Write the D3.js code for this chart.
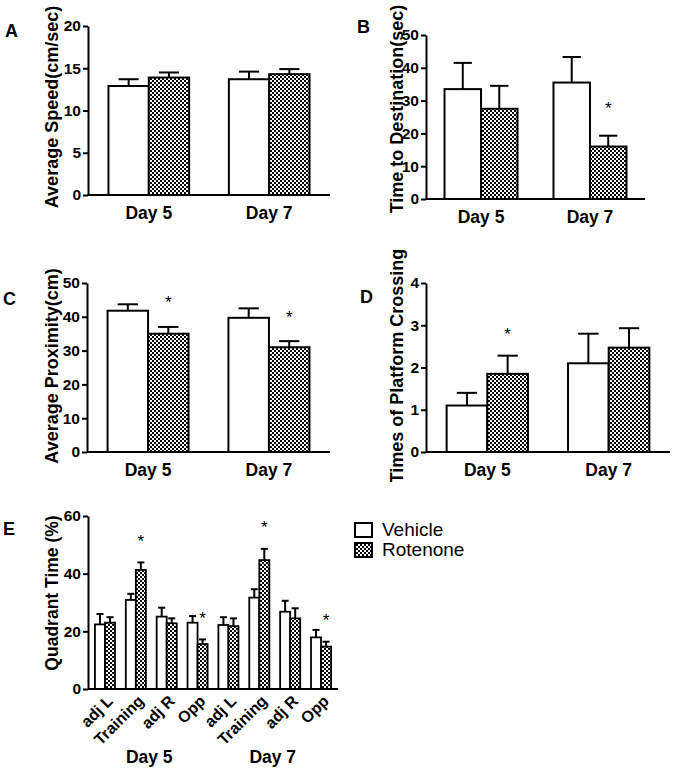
<!DOCTYPE html>
<html><head><meta charset="utf-8">
<script src="https://cdn.jsdelivr.net/npm/d3@7"></script>
<style>
html,body{margin:0;padding:0;background:#fff;}
svg text{font-family:Arial,"Liberation Sans",sans-serif;}
</style></head>
<body>
<svg id="chart" width="676" height="784"></svg>
<script>
// ---------- DATA ----------
const seriesNames = ["Vehicle", "Rotenone"];
const days = ["Day 5", "Day 7"];

// Panel A: Average speed (cm/sec)
const speedVehicle = [12.9, 13.7];
const speedVehicleErr = [0.8, 0.9];
const speedRotenone = [13.9, 14.3];
const speedRotenoneErr = [0.6, 0.6];
const speedTicks = [0, 5, 10, 15, 20];

// Panel B: Time to destination (sec)
const timeVehicle = [33.5, 35.5];
const timeVehicleErr = [8.0, 7.8];
const timeRotenone = [27.5, 16.0];
const timeRotenoneErr = [7.0, 3.3];
const timeTicks = [0, 10, 20, 30, 40, 50];

// Panel C: Average proximity (cm)
const proxVehicle = [41.8, 39.7];
const proxVehicleErr = [1.9, 2.8];
const proxRotenone = [35.0, 31.0];
const proxRotenoneErr = [2.0, 1.8];
const proxTicks = [0, 10, 20, 30, 40, 50];

// Panel D: Times of platform crossing
const crossVehicle = [1.1, 2.1];
const crossVehicleErr = [0.3, 0.7];
const crossRotenone = [1.85, 2.47];
const crossRotenoneErr = [0.43, 0.46];
const crossTicks = [0, 1, 2, 3, 4];

// Panel E: Quadrant time (%)
const quadrants = ["adj L", "Training", "adj R", "Opp", "adj L", "Training", "adj R", "Opp"];
const quadDay = ["Day 5", "Day 5", "Day 5", "Day 5", "Day 7", "Day 7", "Day 7", "Day 7"];
const quadVehicle = [22.4, 30.9, 25.1, 23.0, 22.2, 31.7, 26.8, 17.9];
const quadVehicleErr = [3.6, 2.1, 3.1, 2.3, 2.7, 2.9, 3.8, 2.6];
const quadRotenone = [23.0, 41.3, 22.8, 15.6, 21.8, 44.7, 24.5, 14.7];
const quadRotenoneErr = [1.9, 2.6, 1.7, 1.6, 2.7, 3.9, 3.5, 1.7];
const quadStars = [false, true, false, true, false, true, false, true];
const quadTicks = [0, 20, 40, 60];

// ---------- DRAWING ----------
const svg = d3.select("#chart");
const defs = svg.append("defs");
const pat = defs.append("pattern").attr("id", "checker")
  .attr("patternUnits", "userSpaceOnUse").attr("width", 4).attr("height", 4);
pat.append("rect").attr("width", 4).attr("height", 4).attr("fill", "#fff");
pat.append("rect").attr("x", 0).attr("y", 0).attr("width", 2).attr("height", 2).attr("fill", "#000");
pat.append("rect").attr("x", 2).attr("y", 2).attr("width", 2).attr("height", 2).attr("fill", "#000");

const fills = ["#fff", "url(#checker)"];

function styleAxis(g) {
  g.selectAll("path.domain").attr("stroke", "#000").attr("stroke-width", 2);
  g.selectAll(".tick line").attr("stroke", "#000").attr("stroke-width", 2);
  g.selectAll(".tick text").attr("fill", "#000").attr("font-weight", "bold");
}

function drawPanel(cfg) {
  const g = svg.append("g");
  const y = d3.scaleLinear().domain([0, cfg.yMax]).range([cfg.yBottom, cfg.yTop]);
  const x0 = d3.scaleBand().domain(cfg.categories).range([cfg.xLeft, cfg.xRight])
    .paddingInner(cfg.padInner).paddingOuter(cfg.padOuter);
  const x1 = d3.scaleBand().domain(seriesNames).range([0, x0.bandwidth()]);

  const rows = [];
  cfg.categories.forEach((c, i) => {
    seriesNames.forEach((s, j) => {
      rows.push({cat: c, s: s, j: j, v: cfg.values[j][i], e: cfg.errors[j][i], star: cfg.stars[j][i]});
    });
  });

  rows.forEach(r => {
    const cx = x0(r.cat) + x1(r.s) + x1.bandwidth() / 2;
    const capW = x1.bandwidth() * cfg.capFrac;
    g.append("line").attr("x1", cx).attr("x2", cx)
      .attr("y1", y(r.v)).attr("y2", y(r.v + r.e))
      .attr("stroke", "#000").attr("stroke-width", 2);
    g.append("line").attr("x1", cx - capW / 2).attr("x2", cx + capW / 2)
      .attr("y1", y(r.v + r.e)).attr("y2", y(r.v + r.e))
      .attr("stroke", "#000").attr("stroke-width", 2);
    if (r.star) {
      g.append("text").attr("x", cx).attr("y", y(r.v + r.e) - cfg.starGap)
        .attr("text-anchor", "middle").attr("font-size", cfg.starSize + "px")
        .attr("dominant-baseline", "central").attr("fill", "#000").text("*");
    }
  });

  g.selectAll("rect.bar").data(rows).enter().append("rect")
    .attr("class", "bar")
    .attr("x", d => x0(d.cat) + x1(d.s))
    .attr("y", d => y(d.v))
    .attr("width", x1.bandwidth())
    .attr("height", d => y(0) - y(d.v))
    .attr("fill", d => fills[d.j])
    .attr("stroke", "#000").attr("stroke-width", cfg.barStroke);

  const ya = g.append("g").attr("transform", `translate(${cfg.xLeft},0)`)
    .call(d3.axisLeft(y).tickValues(cfg.ticks).tickFormat(d3.format("d")).tickSize(5).tickPadding(2).tickSizeOuter(0))
    .attr("font-size", "15.5px");
  styleAxis(ya);

  const xa = g.append("g").attr("transform", `translate(0,${cfg.yBottom})`)
    .call(d3.axisBottom(x0).tickSize(0).tickSizeOuter(0).tickFormat(cfg.tickFormat || (d => d)))
    .attr("font-size", cfg.xFont + "px");
  styleAxis(xa);
  xa.select("path.domain").attr("d", `M${cfg.xLeft},0H${cfg.xRight}`);
  if (cfg.rotateX) {
    xa.selectAll(".tick text")
      .attr("text-anchor", "end")
      .attr("transform", "translate(5,9) rotate(-45)")
      .attr("y", 0).attr("dy", "0.35em");
  } else {
    xa.selectAll(".tick text").attr("y", 12);
  }

  const tg = g.append("g");
  if (cfg.titleClip) {
    const cid = "clip" + cfg.letter;
    defs.append("clipPath").attr("id", cid).append("rect")
      .attr("x", 0).attr("y", 0).attr("width", 676).attr("height", cfg.titleClip);
    tg.attr("clip-path", `url(#${cid})`);
  }
  tg.append("text")
    .attr("transform", `translate(${cfg.titleX},${cfg.titleY}) rotate(-90)`)
    .attr("text-anchor", "middle").attr("font-size", cfg.titleSize + "px")
    .attr("font-weight", "bold").attr("fill", "#000").text(cfg.title);

  svg.append("text").attr("x", cfg.letterX).attr("y", cfg.letterY)
    .attr("font-size", "18px").attr("font-weight", "bold").attr("fill", "#000").text(cfg.letter);
  return {x0, x1, y};
}

const common = {padInner: 0.33, padOuter: 0.17, capFrac: 0.5, barStroke: 2, starSize: 17, starGap: 24, xFont: 17.5, titleSize: 18};

drawPanel(Object.assign({}, common, {
  letter: "A", letterX: 5, letterY: 37,
  categories: days, values: [speedVehicle, speedRotenone], errors: [speedVehicleErr, speedRotenoneErr],
  stars: [[false, false], [false, false]],
  yMax: 20, ticks: speedTicks, xLeft: 88, xRight: 330, yTop: 26, yBottom: 195,
  title: "Average Speed(cm/sec)", titleX: 58, titleY: 107
}));

drawPanel(Object.assign({}, common, {
  letter: "B", letterX: 357, letterY: 33,
  categories: days, values: [timeVehicle, timeRotenone], errors: [timeVehicleErr, timeRotenoneErr],
  stars: [[false, false], [false, true]],
  yMax: 50, ticks: timeTicks, xLeft: 426, xRight: 645, yTop: 35, yBottom: 199,
  title: "Time to Destination(sec)", titleX: 403, titleY: 109, starGap: 27
}));

drawPanel(Object.assign({}, common, {
  letter: "C", letterX: 3, letterY: 305,
  categories: days, values: [proxVehicle, proxRotenone], errors: [proxVehicleErr, proxRotenoneErr],
  stars: [[false, false], [true, true]],
  yMax: 50, ticks: proxTicks, xLeft: 87, xRight: 330, yTop: 283, yBottom: 452,
  title: "Average Proximity(cm)", titleX: 58, titleY: 366
}));

drawPanel(Object.assign({}, common, {
  letter: "D", letterX: 360, letterY: 303,
  categories: days, values: [crossVehicle, crossRotenone], errors: [crossVehicleErr, crossRotenoneErr],
  stars: [[false, false], [true, false]],
  yMax: 4, ticks: crossTicks, xLeft: 426, xRight: 670, yTop: 283, yBottom: 452,
  title: "Times of Platform Crossing", titleX: 403, titleY: 366, titleClip: 482, starGap: 21
}));

const eIdx = quadrants.map((q, i) => i);
const pe = drawPanel(Object.assign({}, common, {
  letter: "E", letterX: 3, letterY: 535,
  categories: eIdx, values: [quadVehicle, quadRotenone], errors: [quadVehicleErr, quadRotenoneErr],
  stars: [quadVehicle.map(() => false), quadStars],
  tickFormat: i => quadrants[i], rotateX: true, xFont: 16,
  yMax: 60, ticks: quadTicks, xLeft: 88, xRight: 338, yTop: 516, yBottom: 689,
  padInner: 0.35, padOuter: 0.225, capFrac: 0.7, barStroke: 1.8, starGap: 21,
  title: "Quadrant Time (%)", titleX: 58, titleY: 593, titleSize: 17.5
}));

days.forEach(day => {
  const idx = eIdx.filter(i => quadDay[i] === day);
  const xs = idx.map(i => pe.x0(i) + pe.x0.bandwidth() / 2);
  svg.append("text").attr("x", d3.mean(xs) - 2).attr("y", 763)
    .attr("text-anchor", "middle").attr("font-size", "17.5px").attr("font-weight", "bold")
    .attr("fill", "#000").text(day);
});

const lg = svg.append("g");
seriesNames.forEach((s, j) => {
  lg.append("rect").attr("x", 355).attr("y", 523 + j * 20).attr("width", 17).attr("height", 14)
    .attr("fill", fills[j]).attr("stroke", "#000").attr("stroke-width", 2);
  lg.append("text").attr("x", 382).attr("y", 536 + j * 20).attr("font-size", "19px")
    .attr("fill", "#000").text(s);
});
</script>
</body></html>
